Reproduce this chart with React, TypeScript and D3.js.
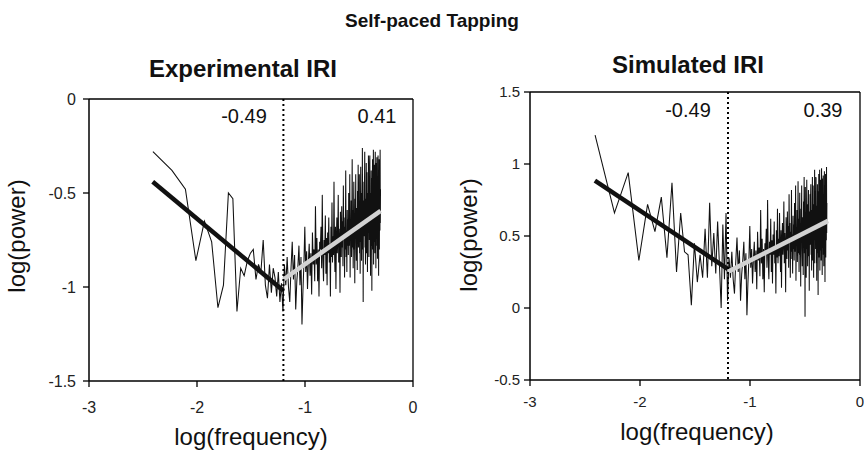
import React from "react";
import * as d3 from "d3";

// ---------- data ----------
const MAIN_TITLE = "Self-paced Tapping";
const PANEL_TITLES = ["Experimental IRI", "Simulated IRI"];
const X_LABEL = "log(frequency)";
const Y_LABEL = "log(power)";

// spectrum bins: k / SEGMENTS, k starting at FIRST_BIN
const SEGMENTS = 512;
const FIRST_BIN = 2;
const BREAK_FREQ = -1.2;

const X_DOMAIN = [-3, 0];
const X_TICKS = [-3, -2, -1, 0];

const EXP_Y_DOMAIN = [-1.5, 0];
const EXP_Y_TICKS = [0, -0.5, -1, -1.5];
const SIM_Y_DOMAIN = [-0.5, 1.5];
const SIM_Y_TICKS = [1.5, 1, 0.5, 0, -0.5];

const EXP_SLOPES = ["-0.49", "0.41"];
const SIM_SLOPES = ["-0.49", "0.39"];

// fitted segments [[x0,y0],[x1,y1]]
const EXP_FIT_LOW = [[-2.41, -0.44], [-1.2, -1.02]];
const EXP_FIT_HIGH = [[-1.2, -0.96], [-0.3, -0.595]];
const SIM_FIT_LOW = [[-2.41, 0.885], [-1.2, 0.27]];
const SIM_FIT_HIGH = [[-1.2, 0.252], [-0.29, 0.605]];

// log(power) values, bins k = 2..256
const EXP_POWER = [
  -0.28, -0.38, -0.48, -0.86, -0.65, -0.76, -1.11, -0.99, -0.50, -0.53,
  -1.13, -0.90, -0.94, -0.86, -0.82, -0.80, -0.96, -0.88, -0.92, -0.75,
  -0.99, -1.06, -0.88, -1.03, -0.90, -0.95, -1.05, -0.92, -1.08, -0.98,
  -1.13, -0.88, -0.99, -0.84,
  -1.00, -1.08, -0.90, -0.76, -0.96,
  -0.83, -1.12, -0.97, -0.89, -0.78,
  -0.99, -0.84, -1.20, -1.02, -0.88,
  -0.68, -0.92, -0.81, -1.01, -0.87, -0.77,
  -0.94, -0.82, -1.04, -0.71, -0.88, -0.80, -0.97,
  -0.57, -0.88, -0.74, -0.97, -0.80, -1.05, -0.76,
  -0.80, -0.68, -0.90, -0.51, -0.85, -0.97, -0.75, -0.83, -0.62, -0.93,
  -0.74, -0.99, -0.71, -0.82, -0.63, -0.87, -0.77, -1.05, -0.68, -0.84,
  -0.55, -0.87, -0.73, -0.83, -0.44, -0.79, -0.92, -0.68, -1.01, -0.74,
  -0.63, -0.82, -0.74, -0.51, -0.87, -0.69, -0.78, -1.03, -0.60, -0.73, -0.84, -0.57, -0.79,
  -0.65, -0.89, -0.46, -0.74, -0.63, -0.95, -0.68, -0.80, -0.38, -0.84, -0.70, -0.92, -0.59, -0.78, -0.64,
  -0.83, -0.50, -0.68, -0.78, -0.40, -0.95, -0.64, -0.73, -0.54, -0.84, -0.69, -0.32, -0.79, -0.59, -0.90,
  -0.64, -0.44, -0.80, -0.61, -0.98, -0.53, -0.70, -0.40, -0.76, -0.86, -0.58, -0.65, -0.91, -0.49, -0.74, -0.35, -0.79,
  -0.53, -0.70, -0.40, -0.82, -0.64, -0.93, -0.57, -0.36, -0.76, -0.61, -0.86, -0.50, -0.69, -0.26, -0.80, -0.59, -1.08, -0.54, -0.72, -0.44,
  -0.73, -0.46, -0.28, -0.79, -0.60, -0.88, -0.53, -0.66, -0.34, -0.82, -0.58, -0.39, -0.76, -0.92, -0.50, -0.62, -0.84, -0.30, -0.71, -0.54,
  -0.45, -0.75, -0.34, -0.30, -0.84, -0.59, -0.94, -0.50, -0.68, -0.38, -0.78, -0.54, -1.02, -0.42, -0.65, -0.32, -0.80, -0.57, -0.72, -0.27, -0.88, -0.53, -0.66, -0.35, -0.76,
  -0.54, -0.82, -0.46, -0.28, -0.68, -0.40, -0.90, -0.58, -0.34, -0.74, -0.51, -0.31, -0.78, -0.56, -0.85, -0.44, -0.65, -0.30, -0.72, -0.49, -0.94, -0.38, -0.62, -0.32, -0.80, -0.53, -0.42, -0.70, -0.27, -0.66, -0.48,
];

const SIM_POWER = [
  1.20, 0.66, 0.94, 0.33, 0.72, 0.53, 0.77, 0.35, 0.87, 0.25,
  0.66, 0.39, 0.37, 0.02, 0.45, 0.18, 0.37, 0.21, 0.55, 0.21,
  0.73, 0.29, 0.52, 0.24, 0.60, 0.30, 0.00, 0.58, 0.20, 0.66,
  0.05, 0.35, 0.21, 0.39,
  0.20, 0.10, 0.32, 0.49, 0.25,
  0.40, 0.05, 0.23, 0.33, 0.46,
  0.20, 0.38, -0.05, 0.17, 0.33,
  0.57, 0.28, 0.41, 0.17, 0.34, 0.46,
  0.25, 0.40, 0.13, 0.53, 0.33, 0.42, 0.22,
  0.68, 0.31, 0.48, 0.20, 0.41, 0.11, 0.45,
  0.40, 0.55, 0.28, 0.75, 0.34, 0.20, 0.46, 0.37, 0.62, 0.25,
  0.47, 0.17, 0.51, 0.37, 0.60, 0.31, 0.43, 0.10, 0.54, 0.35,
  0.69, 0.31, 0.48, 0.36, 0.66, 0.41, 0.25, 0.54, 0.14, 0.47,
  0.59, 0.37, 0.46, 0.74, 0.31, 0.52, 0.41, 0.11, 0.63, 0.47, 0.34, 0.67, 0.40,
  0.57, 0.28, 0.79, 0.46, 0.59, 0.21, 0.53, 0.39, 0.82, 0.34, 0.51, 0.24, 0.64, 0.41, 0.58,
  0.33, 0.73, 0.51, 0.39, 0.85, 0.19, 0.56, 0.45, 0.68, 0.32, 0.50, 0.88, 0.38, 0.62, 0.25,
  0.56, 0.80, 0.37, 0.59, 0.15, 0.69, 0.49, 0.85, 0.41, 0.29, 0.63, 0.55, 0.23, 0.74, 0.44, 0.91, 0.38,
  0.69, -0.06, 0.84, 0.34, 0.55, 0.21, 0.64, 0.89, 0.41, 0.59, 0.29, 0.72, 0.49, 0.82, 0.36, 0.61, 0.12, 0.67, 0.46, 0.79,
  0.44, 0.77, 0.86, 0.37, 0.60, 0.26, 0.68, 0.53, 0.91, 0.33, 0.62, 0.85, 0.41, 0.21, 0.72, 0.57, 0.31, 0.96, 0.47, 0.67,
  0.77, 0.41, 0.91, 0.90, 0.31, 0.61, 0.19, 0.71, 0.50, 0.86, 0.38, 0.67, 0.09, 0.81, 0.53, 0.93, 0.35, 0.63, 0.45, 0.96, 0.26, 0.68, 0.52, 0.89, 0.40,
  0.66, 0.33, 0.76, 0.97, 0.49, 0.83, 0.23, 0.61, 0.90, 0.42, 0.70, 0.92, 0.37, 0.64, 0.29, 0.78, 0.53, 0.95, 0.45, 0.72, 0.18, 0.85, 0.57, 0.93, 0.35, 0.67, 0.81, 0.47, 0.98, 0.52, 0.73,
];

// ---------- layout ----------
const FONT = "'Liberation Sans', Arial, Helvetica, sans-serif";
const LAYOUT = [
  {
    left: 89, right: 413, top: 99, bottom: 381,
    titleX: 243, titleY: 77,
    tickFont: 16, xTickBaseline: 413, yTickGap: 13,
    xLabelX: 251, xLabelY: 445,
    yLabelX: 25, yLabelY: 236,
    slopeY: 123, slopeX: [244, 377],
  },
  {
    left: 530, right: 860, top: 92, bottom: 380,
    titleX: 688, titleY: 73,
    tickFont: 15, xTickBaseline: 407, yTickGap: 10,
    xLabelX: 697, xLabelY: 440,
    yLabelX: 477, yLabelY: 235,
    slopeY: 117, slopeX: [688, 823],
  },
];

const PANELS = [
  { title: PANEL_TITLES[0], power: EXP_POWER, yDomain: EXP_Y_DOMAIN, yTicks: EXP_Y_TICKS, fitLow: EXP_FIT_LOW, fitHigh: EXP_FIT_HIGH, slopes: EXP_SLOPES },
  { title: PANEL_TITLES[1], power: SIM_POWER, yDomain: SIM_Y_DOMAIN, yTicks: SIM_Y_TICKS, fitLow: SIM_FIT_LOW, fitHigh: SIM_FIT_HIGH, slopes: SIM_SLOPES },
];

function Panel({ panel, lay }: { panel: any; lay: any }) {
  const x = d3.scaleLinear().domain(X_DOMAIN).range([lay.left, lay.right]);
  const y = d3.scaleLinear().domain(panel.yDomain).range([lay.bottom, lay.top]);
  const pts: [number, number][] = panel.power.map((v: number, i: number) => [
    Math.log10((FIRST_BIN + i) / SEGMENTS),
    v,
  ]);
  const line = d3.line<[number, number]>().x((d) => x(d[0])).y((d) => y(d[1]));
  const ax = "#000";
  return (
    <g>
      <text x={lay.titleX} y={lay.titleY} textAnchor="middle" fontFamily={FONT} fontSize={24} fontWeight="bold" fill="#111">
        {panel.title}
      </text>
      <path d={line(pts) || ""} fill="none" stroke="#111" strokeWidth={1.05} strokeLinejoin="miter" />
      <path d={line(panel.fitLow) || ""} fill="none" stroke="#111" strokeWidth={4.5} />
      <path d={line(panel.fitHigh) || ""} fill="none" stroke="#d2d2d2" strokeWidth={4.5} />
      <line x1={x(BREAK_FREQ)} x2={x(BREAK_FREQ)} y1={lay.top} y2={lay.bottom} stroke="#000" strokeWidth={2} strokeDasharray="2,3" />
      <line x1={lay.left} x2={lay.right} y1={lay.top} y2={lay.top} stroke={ax} strokeWidth={1.3} />
      <line x1={lay.right} x2={lay.right} y1={lay.top} y2={lay.bottom} stroke={ax} strokeWidth={1.3} />
      <line x1={lay.left} x2={lay.left} y1={lay.top} y2={lay.bottom} stroke={ax} strokeWidth={1.5} />
      <line x1={lay.left} x2={lay.right} y1={lay.bottom} y2={lay.bottom} stroke={ax} strokeWidth={1.5} />
      {panel.yTicks.map((t: number) => (
        <g key={"y" + t}>
          <line x1={lay.left - 6} x2={lay.left} y1={y(t)} y2={y(t)} stroke={ax} strokeWidth={1.3} />
          <text x={lay.left - lay.yTickGap} y={y(t)} dy="0.36em" textAnchor="end" fontFamily={FONT} fontSize={lay.tickFont} fill="#222">
            {String(t)}
          </text>
        </g>
      ))}
      {X_TICKS.map((t) => (
        <g key={"x" + t}>
          <line x1={x(t)} x2={x(t)} y1={lay.bottom} y2={lay.bottom + 6} stroke={ax} strokeWidth={1.3} />
          <text x={x(t)} y={lay.xTickBaseline} textAnchor="middle" fontFamily={FONT} fontSize={lay.tickFont} fill="#222">
            {String(t)}
          </text>
        </g>
      ))}
      {panel.slopes.map((s: string, i: number) => (
        <text key={"s" + i} x={lay.slopeX[i]} y={lay.slopeY} textAnchor="middle" fontFamily={FONT} fontSize={20} fill="#111">
          {s}
        </text>
      ))}
      <text x={lay.xLabelX} y={lay.xLabelY} textAnchor="middle" fontFamily={FONT} fontSize={24} fill="#111">
        {X_LABEL}
      </text>
      <text transform={`translate(${lay.yLabelX},${lay.yLabelY}) rotate(-90)`} textAnchor="middle" fontFamily={FONT} fontSize={24} fill="#111">
        {Y_LABEL}
      </text>
    </g>
  );
}

export default function App() {
  return (
    <svg width={864} height={455} style={{ position: "absolute", left: 0, top: 0, background: "#fff" }}>
      <rect width={864} height={455} fill="#fff" />
      <text x={432} y={27} textAnchor="middle" fontFamily={FONT} fontSize={19} fontWeight="bold" fill="#111">
        {MAIN_TITLE}
      </text>
      {PANELS.map((p, i) => (
        <Panel key={i} panel={p} lay={LAYOUT[i]} />
      ))}
    </svg>
  );
}
